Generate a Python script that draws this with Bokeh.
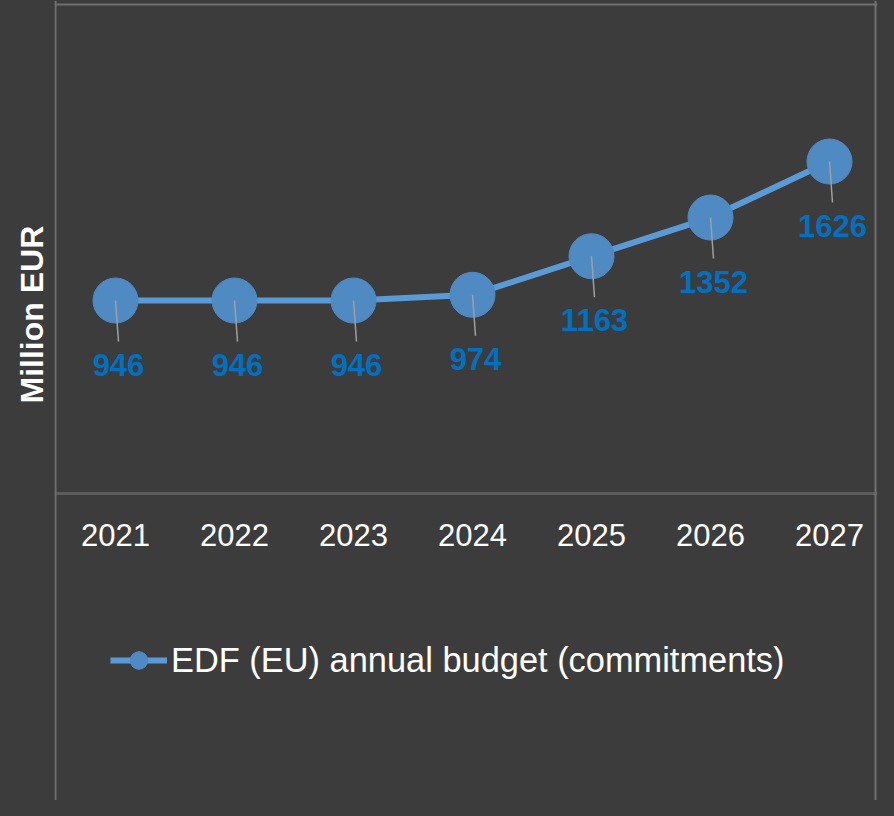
import math
from bokeh.plotting import figure
from bokeh.models import (ColumnDataSource, Range1d, LabelSet, Legend, LegendItem,
                          Span, FixedTicker, Title)
from bokeh.core.properties import value
from bokeh.embed import file_html
from bokeh.resources import INLINE

# ---- data ----
years = ["2021", "2022", "2023", "2024", "2025", "2026", "2027"]
budget = [946, 946, 946, 974, 1163, 1352, 1626]
series_name = "EDF (EU) annual budget (commitments)"
y_title = "Million EUR"

# ---- style ----
BG = "#3c3c3c"
BORDER = "#707070"
AXIS = "#5c5c5c"
LINE_C = "#5b9bd5"
MARK_C = "#4f8ac2"
LABEL_C = "#0070c0"
LEADER_C = "#a0a0a0"
FONT = "Liberation Sans"

W, H = 878, 800
ML, MR, MT, MB = 54, 1, 0, 0
frame_w = W - ML - MR
frame_h = H - MT - MB
cat_px = 119.0                 # pixels per category
x_start = -61.0 / cat_px       # first category 61 px from frame left
x_end = x_start + frame_w / cat_px
y0_px = 493.4                  # pixel of value 0 from frame top
ppu = 0.2044                   # pixels per unit
y_top = y0_px / ppu
y_bot = -(frame_h - y0_px) / ppu

xs = list(range(len(years)))
src = ColumnDataSource(dict(
    x=xs,
    budget=budget,
    label=[str(v) for v in budget],
    lead_x=[x + 3 / cat_px for x in xs],
    lead_end=[v - 41 / ppu for v in budget],
))

p = figure(x_range=Range1d(x_start, x_end), y_range=Range1d(y_bot, y_top),
           width=W, height=H, output_backend="svg", toolbar_location=None,
           min_border_left=ML, min_border_right=MR, min_border_top=MT, min_border_bottom=MB)
p.background_fill_color = BG
p.border_fill_color = BG
p.outline_line_color = None
p.xgrid.visible = False
p.ygrid.visible = False
p.yaxis.visible = False

ax = p.xaxis[0]
ax.fixed_location = 0
ax.ticker = FixedTicker(ticks=xs)
ax.major_label_overrides = {x: y for x, y in zip(xs, years)}
ax.axis_line_color = AXIS
ax.axis_line_width = 3
ax.major_tick_line_color = None
ax.minor_tick_line_color = None
ax.major_tick_out = 0
ax.major_label_standoff = 30
ax.major_label_text_font_size = "31px"
ax.major_label_text_font = FONT
ax.major_label_text_color = "#ffffff"

# frame borders
p.add_layout(Span(location=x_start + 1 / cat_px, dimension="height", line_color=BORDER, line_width=2))
p.add_layout(Span(location=x_start + (frame_w - 2) / cat_px, dimension="height", line_color=BORDER, line_width=2))
p.add_layout(Span(location=(y0_px - 4) / ppu, dimension="width", line_color=BORDER, line_width=2))

line_r = p.line("x", "budget", source=src, line_color=LINE_C, line_width=6)
sc_r = p.scatter("x", "budget", source=src, size=45, fill_color=MARK_C, line_color=MARK_C)
p.segment(x0="x", y0="budget", x1="lead_x", y1="lead_end",
          source=src, line_color=LEADER_C, line_width=1.5)

labels = LabelSet(x="x", y="budget", text="label", source=src, x_offset=3, y_offset=-64,
                  text_align="center", text_baseline="middle", text_font_size=value("31px"),
                  text_font_style=value("bold"), text_font=value(FONT), text_color=LABEL_C)
p.add_layout(labels)

legend = Legend(items=[LegendItem(label=series_name, renderers=[line_r, sc_r])],
                location=(56, 118), glyph_width=57, glyph_height=44, label_height=44,
                label_standoff=4, padding=0, margin=0, spacing=0,
                background_fill_alpha=0, border_line_alpha=0,
                label_text_font_size="34.4px", label_text_font=FONT, label_text_color="#ffffff")
p.add_layout(legend)

p.add_layout(Title(text=y_title, align="left", offset=397, text_font_size="32px",
                   text_font_style="bold", text_font=FONT, text_color="#ffffff",
                   standoff=10), "left")

html = file_html(p, INLINE, title="EDF annual budget")
html = html.replace("<head>", "<head>\n<style>html, body { background: #3c3c3c; }</style>", 1)
open("out.html", "w").write(html)
